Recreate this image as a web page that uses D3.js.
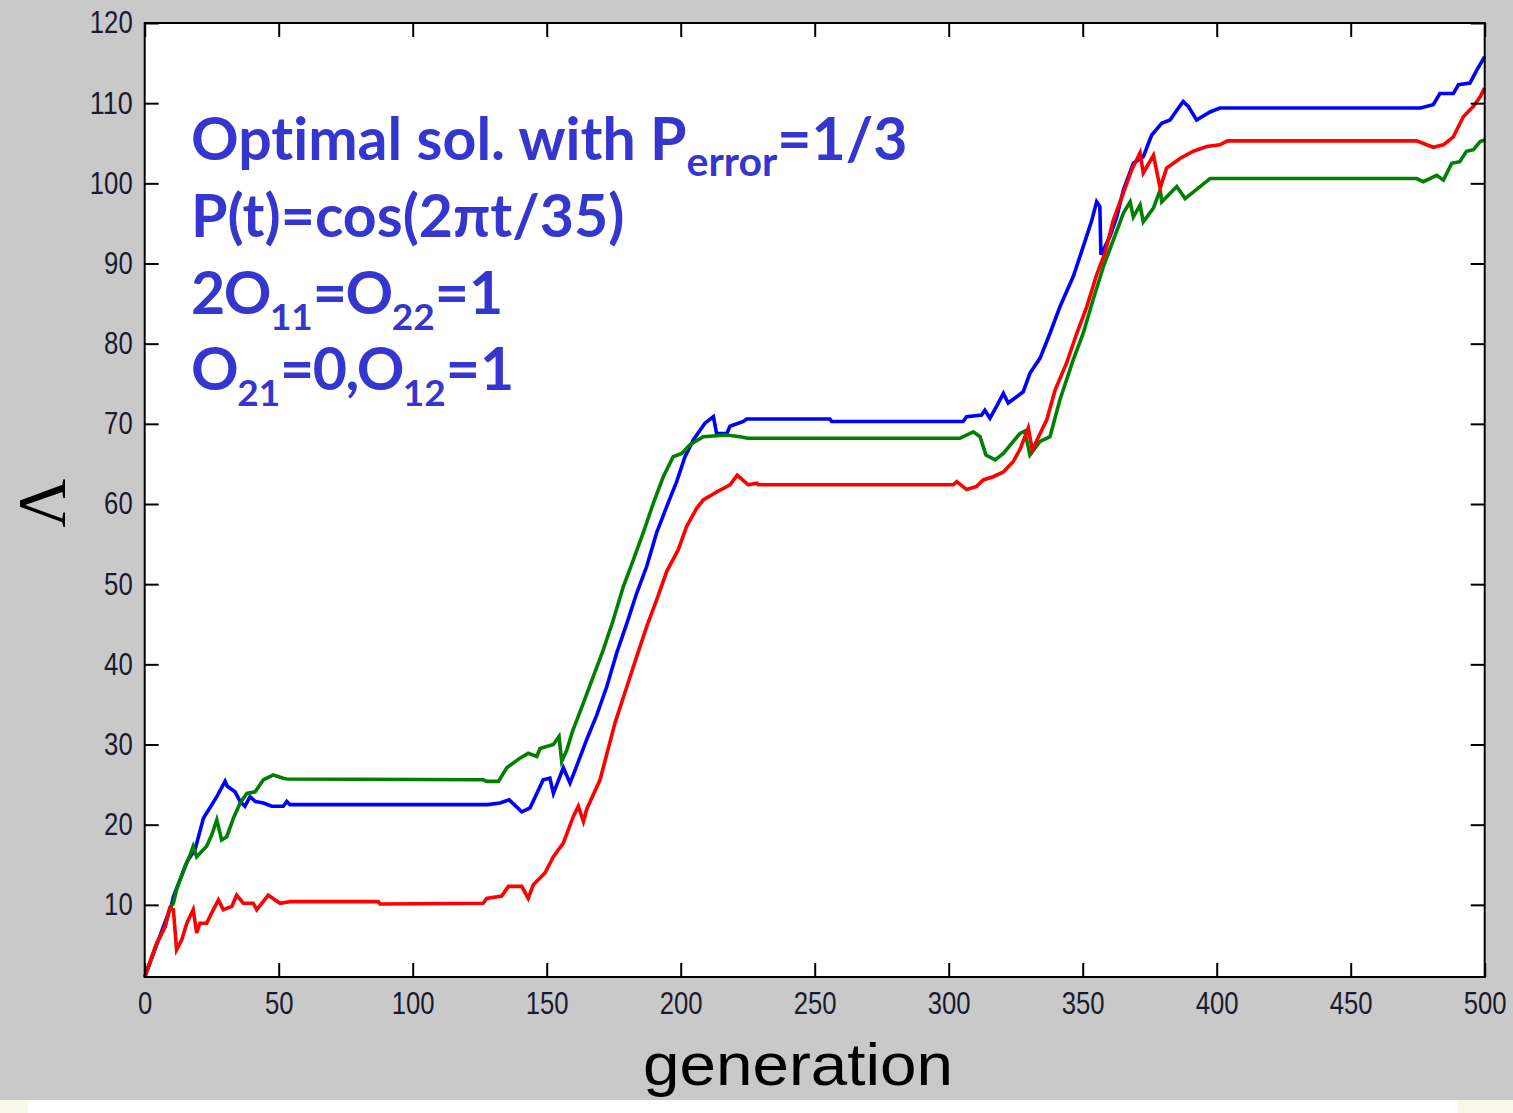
<!DOCTYPE html>
<html>
<head>
<meta charset="utf-8">
<script src="https://cdn.jsdelivr.net/npm/d3@7"></script>
<style>
  html, body { margin: 0; padding: 0; background: #ffffff; }
  svg { display: block; }
</style>
</head>
<body>
<div id="chart"></div>
<script>
// ---- data (generation, Lambda) ----
var blueGen = [0, 5, 10, 10.7, 13, 16, 18.8, 21.9, 26.9, 30, 30.8, 33.7, 35.6, 37.4, 39.3, 41.2, 44.3, 47.4, 51.7, 53, 54.2,
  128, 132.6, 136, 140.7, 143.8, 148.7, 151.2, 152.5, 156.2, 158.7, 160.6, 164.9, 168.7, 172.4, 176.1, 179.9, 183.6, 187.3,
  191, 194.8, 198.5, 201.6, 204.7, 209.1, 212.2, 213.4, 217.2, 218.4, 223.4, 224.6, 255.7, 256.3, 305.4, 306.7, 312.3, 313.5,
  315.4, 317.9, 320.4, 322.2, 327.8, 330.3, 334.1, 337.8, 341.5, 346.5, 350.2, 353.4, 355.2, 356.4, 356.8, 360.2, 362.7,
  365.2, 368.9, 372.6, 375.7, 379.5, 382.6, 385.7, 387.5, 389.4, 392.5, 397.5, 401.2, 476, 480.8, 483.3, 488.3, 490.2,
  494.5, 497, 500];
var blueVal = [1, 5.5, 10, 11, 13, 15.5, 16.9, 20.8, 23.5, 25.4, 24.8, 24.1, 22.9, 22.3, 23.5, 22.9, 22.7, 22.3, 22.3, 22.9, 22.5,
  22.5, 22.7, 23.1, 21.6, 22.1, 25.6, 25.8, 23.9, 27.1, 25.2, 26.8, 30.6, 33.7, 37.2, 41.4, 45.1, 48.9, 52.2,
  56.4, 59.7, 62.8, 65.9, 68.0, 70.1, 70.9, 68.8, 68.8, 69.7, 70.3, 70.6, 70.6, 70.3, 70.3, 70.9, 71.1, 71.7,
  70.7, 72.2, 73.8, 72.6, 74.0, 76.3, 78.2, 81.3, 84.6, 88.4, 92.1, 95.4, 97.7, 97.1, 91.1, 93.4, 95.8,
  99.2, 102.5, 103.3, 106.0, 107.5, 107.9, 109.4, 110.2, 109.6, 107.9, 108.9, 109.4, 109.4, 109.8, 111.2, 111.2, 112.3,
  112.5, 114.1, 115.8];

var redGen = [0, 4.5, 7.6, 9.4, 10.7, 11.9, 13.8, 15.7, 18.1, 19.4, 20.6, 23.1, 25, 27.5, 29.3, 32.5, 34.3, 36.8, 40.5, 41.8,
  46.1, 50.5, 54.2, 87.2, 87.8, 126.3, 127.6, 133.2, 135.7, 140.7, 143.1, 145, 149.4, 152.5, 156.2, 159.9, 161.8, 163.7,
  164.9, 169.9, 175.5, 179.9, 183.6, 187.3, 191, 194.8, 199.1, 202.2, 206, 208.4, 213.4, 218.4, 221.1, 225.2, 228.4, 229,
  301.7, 303, 306.7, 310.4, 312.9, 316.6, 320.4, 324.1, 326.6, 329.7, 331.2, 334.1, 336.6, 339.7, 344, 347.8, 351.5,
  355.2, 358.3, 361.4, 365.2, 368.3, 371.4, 372.6, 376.4, 378.9, 381.3, 386.3, 391.3, 396.3, 401.2, 404, 474.6, 480.8,
  484.6, 488.3, 492, 495.8, 498.3, 500];
var redVal = [1, 5.2, 7.3, 9.6, 9.4, 4.4, 5.6, 7.7, 9.4, 6.5, 7.7, 7.7, 9.0, 10.6, 9.4, 9.8, 11.2, 10.2, 10.2, 9.4,
  11.2, 10.2, 10.4, 10.4, 10.1, 10.2, 10.8, 11.1, 12.3, 12.3, 10.8, 12.5, 14.0, 16.0, 17.7, 21.0, 22.3, 20.4,
  21.9, 25.6, 32.7, 37.2, 41.0, 44.7, 48.0, 51.6, 54.3, 57.2, 59.5, 60.5, 61.5, 62.4, 63.6, 62.4, 62.6, 62.4,
  62.4, 62.8, 61.8, 62.2, 63.0, 63.4, 64.0, 65.3, 66.8, 69.5, 66.7, 68.8, 70.5, 74.2, 77.6, 81.3, 84.6,
  88.6, 91.3, 95.4, 98.8, 101.7, 103.8, 101.3, 103.5, 99.4, 101.9, 103.1, 104.0, 104.6, 104.8, 105.3, 105.3, 104.5,
  104.8, 105.8, 108.3, 109.6, 110.8, 111.9];

var greenGen = [0, 4.5, 7.6, 9.4, 10.7, 11.9, 15, 16.9, 18.1, 19.4, 23.1, 25, 26.9, 28.7, 30.6, 33.1, 35.6, 38.1, 41.2, 44.3,
  48, 51.7, 53, 126.3, 127.6, 132, 135.1, 140, 143.1, 146.3, 147.5, 152.5, 154.6, 155.6, 157.5, 159.6, 163.7, 167.4,
  171.1, 174.8, 178.6, 182.3, 186, 189.8, 193.5, 197.2, 200.4, 203.5, 208.4, 217.2, 222.1, 225, 304.2, 309.2, 311.7,
  313.9, 317.3, 320.4, 324.1, 326.6, 328.4, 330.3, 334.1, 337.8, 341.5, 346.5, 350.2, 353.9, 357.7, 361.4, 365.2,
  367.7, 368.9, 371.4, 372.6, 376.4, 378.9, 379.5, 385.1, 388.2, 393.8, 397.5, 474.6, 477.1, 482.1, 484.6, 487.7,
  490.7, 493.2, 495.8, 498.3, 500];
var greenVal = [1, 5.2, 7.3, 9.6, 10.2, 11.9, 14.8, 16.2, 17.3, 16.0, 17.3, 18.7, 20.6, 18.1, 18.5, 20.8, 22.7, 23.9, 24.1, 25.6,
  26.2, 25.8, 25.7, 25.6, 25.4, 25.4, 27.1, 28.3, 28.9, 28.5, 29.5, 30.0, 31.0, 27.9, 29.3, 31.6, 35.2, 38.5,
  41.8, 45.5, 49.7, 53.0, 56.4, 60.1, 63.4, 65.9, 66.3, 67.4, 68.4, 68.6, 68.4, 68.2, 68.2, 69.0, 68.4,
  66.1, 65.5, 66.3, 67.8, 68.8, 69.1, 66.1, 67.8, 68.4, 73.0, 78.0, 81.3, 85.5, 89.6, 92.9, 96.3,
  97.7, 95.8, 97.3, 95.2, 96.9, 99.2, 97.7, 99.6, 98.1, 99.6, 100.6, 100.6, 100.2, 101.0, 100.4, 102.5,
  102.7, 104.0, 104.2, 105.2, 105.4];

var xTicks = [0, 50, 100, 150, 200, 250, 300, 350, 400, 450, 500];
var yTicks = [10, 20, 30, 40, 50, 60, 70, 80, 90, 100, 110, 120];

//==================
var svgWidth = 1513, svgHeight = 1113;
var plotLeft = 144.7, plotRight = 1484.7, plotTop = 23, plotBottom = 977;

var svg = d3.select("#chart")
  .append("svg")
  .attr("width", svgWidth)
  .attr("height", svgHeight);

// page background
svg.append("rect").attr("width", svgWidth).attr("height", 1100).attr("fill", "#c9c9c9");
svg.append("rect").attr("y", 1100).attr("width", svgWidth).attr("height", 13).attr("fill", "#ffffff");
svg.append("rect").attr("y", 1100).attr("width", 28).attr("height", 13).attr("fill", "#f8f8ea");
svg.append("rect").attr("x", 1458).attr("y", 1100).attr("width", 55).attr("height", 13).attr("fill", "#f8f8ea");

// plot area
svg.append("rect")
  .attr("x", plotLeft).attr("y", plotTop)
  .attr("width", plotRight - plotLeft).attr("height", plotBottom - plotTop)
  .attr("fill", "#ffffff");

var xScale = d3.scaleLinear().domain([0, 500]).range([plotLeft, plotRight]);
var yScale = d3.scaleLinear().domain([1, 120]).range([plotBottom, plotTop]);

//==================
// lines: blue first, then green, red on top
var series = [
  { gen: blueGen, val: blueVal, color: "#0000ff" },
  { gen: greenGen, val: greenVal, color: "#008000" },
  { gen: redGen, val: redVal, color: "#ff0000" }
];

var line = d3.line()
  .x(d => xScale(d[0]))
  .y(d => yScale(d[1]));

series.forEach(function(s) {
  var pts = s.gen.map((g, i) => [g, s.val[i]]);
  svg.append("path")
    .datum(pts)
    .attr("fill", "none")
    .attr("stroke", s.color)
    .attr("stroke-width", 3.6)
    .attr("stroke-linejoin", "miter")
    .attr("d", line);
});

//==================
// axes with inward ticks on all four sides
var tickLen = 14;
var labelFont = "'Liberation Sans', Arial, sans-serif";

var xAxis = svg.append("g")
  .attr("transform", "translate(0," + plotBottom + ")")
  .call(d3.axisBottom(xScale).tickValues(xTicks).tickSize(-tickLen).tickPadding(15).tickFormat(d3.format("d")));
var yAxis = svg.append("g")
  .attr("transform", "translate(" + plotLeft + ",0)")
  .call(d3.axisLeft(yScale).tickValues(yTicks).tickSize(-tickLen).tickPadding(12).tickFormat(d3.format("d")));
var xTop = svg.append("g")
  .attr("transform", "translate(0," + plotTop + ")")
  .call(d3.axisTop(xScale).tickValues(xTicks).tickSize(-tickLen).tickFormat(""));
var yRight = svg.append("g")
  .attr("transform", "translate(" + plotRight + ",0)")
  .call(d3.axisRight(yScale).tickValues(yTicks).tickSize(-tickLen).tickFormat(""));

[xAxis, yAxis, xTop, yRight].forEach(function(g) {
  g.select(".domain").remove();
  g.selectAll(".tick line").attr("stroke", "#000").attr("stroke-width", 2);
});

[xAxis, yAxis].forEach(function(g) {
  g.selectAll(".tick text")
    .attr("fill", "#1a1a2e")
    .style("font-family", labelFont)
    .style("font-size", "31px")
    .attr("textLength", function(d) { return String(d).length * 14.3; })
    .attr("lengthAdjust", "spacingAndGlyphs");
});

// box
svg.append("rect")
  .attr("x", plotLeft).attr("y", plotTop)
  .attr("width", plotRight - plotLeft).attr("height", plotBottom - plotTop)
  .attr("fill", "none")
  .attr("stroke", "#000")
  .attr("stroke-width", 2);

//==================
// axis titles
svg.append("text")
  .attr("x", 798).attr("y", 1085)
  .attr("text-anchor", "middle")
  .style("font-family", labelFont)
  .style("font-size", "60px")
  .attr("textLength", 310)
  .attr("lengthAdjust", "spacingAndGlyphs")
  .attr("fill", "#000")
  .text("generation");

svg.append("text")
  .attr("transform", "translate(40,503) rotate(-90)")
  .attr("text-anchor", "middle")
  .attr("dy", "0.35em")
  .style("font-family", "'Liberation Serif', 'Times New Roman', serif")
  .style("font-size", "68px")
  .attr("fill", "#000")
  .text("Λ");

//==================
// annotation: [text, subscript?]
var note = [
  { y: 160, parts: [["Optimal sol. with P", 0], ["error", 1], ["=1/3", 0]] },
  { y: 237, parts: [["P(t)=cos(2πt/35)", 0]] },
  { y: 314, parts: [["2O", 0], ["11", 1], ["=O", 0], ["22", 1], ["=1", 0]] },
  { y: 390, parts: [["O", 0], ["21", 1], ["=0,O", 0], ["12", 1], ["=1", 0]] }
];

note.forEach(function(n) {
  var t = svg.append("text")
    .attr("x", 191).attr("y", n.y)
    .style("font-family", "Lato, 'Open Sans', sans-serif")
    .style("font-weight", "bold")
    .style("font-size", "59px")
    .style("font-variant-ligatures", "none")
    .attr("fill", "#3535cf");
  var low = false;
  n.parts.forEach(function(p) {
    var ts = t.append("tspan").text(p[0]);
    var subSize = /^\d+$/.test(p[0]) ? "37px" : "41px";
    if (p[1] && !low) { ts.attr("dy", 16).style("font-size", subSize); low = true; }
    else if (p[1]) { ts.style("font-size", subSize); }
    else if (low) { ts.attr("dy", -16); low = false; }
    if (p[0] === "2O" || p[0] === "=O" || p[0] === "O" || p[0] === "=0,O") {
      ts.attr("letter-spacing", "-1.5px");
    }
  });
});
</script>
</body>
</html>
